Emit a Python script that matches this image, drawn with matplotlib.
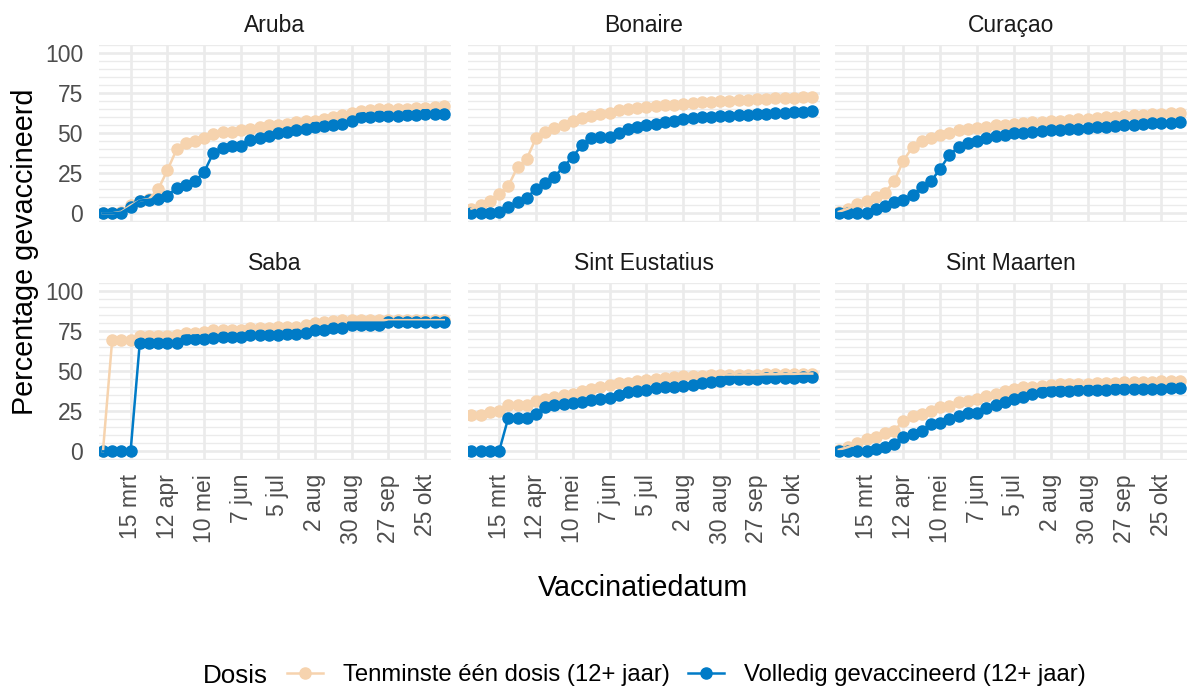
import matplotlib
matplotlib.use("Agg")
import matplotlib.pyplot as plt
from matplotlib.lines import Line2D
from matplotlib.ticker import MultipleLocator
import pandas as pd

plt.rcParams['font.family'] = ['Liberation Sans', 'DejaVu Sans']

# weekly vaccination dates (Mondays)
dates = pd.date_range("2021-02-22", periods=38, freq="7D")
tick_dates = pd.to_datetime(["2021-03-15", "2021-04-12", "2021-05-10", "2021-06-07", "2021-07-05",
                             "2021-08-02", "2021-08-30", "2021-09-27", "2021-10-25"])
tick_labels = ["15 mrt", "12 apr", "10 mei", "7 jun", "5 jul", "2 aug", "30 aug", "27 sep", "25 okt"]

islands = ["Aruba", "Bonaire", "Curaçao", "Saba", "Sint Eustatius", "Sint Maarten"]
series_names = ["Tenminste één dosis (12+ jaar)", "Volledig gevaccineerd (12+ jaar)"]

aruba_een = [0, 0, 1, 5, 8, 9, 15, 27, 40, 44, 45, 47, 49.5, 51, 51, 52, 53, 54, 55, 55.5,
             56, 57, 57.5, 58, 59, 60, 61.5, 63, 64, 64.5, 65, 65, 65.5, 65.5, 66, 66, 66.5, 67]
aruba_vol = [0, 0, 0.5, 4, 8, 8.5, 9, 11, 16, 18, 20, 26, 38, 41, 42, 42, 46, 47, 48.5, 50,
             51, 52, 53, 54, 54.5, 55, 56, 58, 60, 60.5, 61, 61, 61, 61.5, 61.5, 62, 62, 62]
bonaire_een = [3, 5, 8, 12, 17, 29, 34, 47, 51, 53.5, 55.5, 58, 59.5, 61, 62, 63, 64.5, 65.5, 66, 66.5,
               67, 67.5, 68, 68.5, 69, 69.3, 69.6, 70, 70.3, 70.6, 71, 71.2, 71.5, 71.8, 72, 72.3, 72.6, 73]
bonaire_vol = [0, 0, 0, 1, 4, 7, 9.5, 15.5, 19, 23, 29, 35.5, 42.5, 47, 48, 48, 50, 53, 54, 55,
               56, 57, 58, 58.7, 59.4, 60, 60.3, 60.6, 61, 61.3, 61.6, 62, 62.3, 62.6, 63, 63.3, 63.6, 64]
curacao_een = [1, 3, 6, 8, 10, 13, 20, 33, 41.5, 45, 47, 49, 50.5, 52, 52.5, 53.5, 54, 55, 55.5, 56,
               56.4, 56.8, 57.2, 57.6, 58, 58.4, 58.8, 59.2, 59.6, 60, 60.4, 60.8, 61.2, 61.6, 62, 62.3, 62.6, 63]
curacao_vol = [0, 0, 0, 0.5, 2.5, 4.5, 7, 8.5, 11.5, 16.5, 20, 28, 36.5, 41.5, 44, 45, 47, 48.3, 49, 50,
               50.5, 51, 51.4, 51.8, 52.2, 52.6, 53, 53.4, 53.8, 54.2, 54.6, 55, 55.4, 55.8, 56.2, 56.5, 56.7, 57]
saba_een = [0, 69.5, 69.5, 69.5, 72, 72, 72, 72, 73, 74, 74, 74.5, 75.8, 75.8, 75.8, 75.8, 77, 77, 77, 77.5,
            77.5, 77.5, 79, 80.5, 81, 81.5, 82, 82, 82, 82, 82, 82, 82, 82, 82, 82, 82, 82]
saba_vol = [0, 0, 0, 0, 68, 68, 68, 68, 68, 70, 70, 70, 70.6, 71.4, 71.4, 71.4, 72.7, 72.7, 72.7, 72.7,
            73.5, 73.5, 74, 75.6, 76, 77, 77, 79, 79, 79, 79, 81, 81, 81, 81, 81, 81, 81]
statia_een = [22.5, 22.5, 24.5, 25.5, 29, 29, 29, 31.5, 33, 34, 35, 36, 37.5, 39, 40.5, 41.5, 42.5, 43, 44, 44.5,
              45, 45.8, 46.6, 47.2, 47.2, 47.2, 47.8, 48, 48, 48, 48, 48, 48.2, 48.2, 48.4, 48.4, 48.6, 48.6]
statia_vol = [0, 0, 0, 0, 21, 21, 21, 23.5, 27.5, 29, 29.5, 30, 31, 32, 32.7, 33.5, 35.5, 36.9, 37.5, 38.5,
              39.5, 40, 40.5, 41, 41.6, 43, 43.2, 44, 45, 45, 45.3, 45.5, 45.8, 45.8, 45.8, 46, 46.3, 46.6]
maarten_een = [1, 2.7, 5, 7.5, 9, 11.4, 13, 19, 22, 23.4, 25.5, 27.5, 28.6, 30.6, 31.7, 32.7, 34.8, 35.8, 37.5, 39,
               40, 40.4, 41, 41.4, 41.8, 42, 42.2, 42.4, 42.6, 42.8, 43, 43.1, 43.2, 43.4, 43.5, 43.7, 43.9, 44]
maarten_vol = [0, 0, 0, 0, 1.7, 2.7, 4.8, 8.9, 11, 13, 17, 18, 20, 22.4, 23.8, 23.8, 27, 29, 30.6, 32.7,
               34, 35.8, 36.9, 37.5, 37.9, 38, 38.2, 38.4, 38.5, 38.6, 38.7, 38.8, 38.9, 39, 39.1, 39.2, 39.3, 39.3]

panels = [(aruba_een, aruba_vol), (bonaire_een, bonaire_vol), (curacao_een, curacao_vol),
          (saba_een, saba_vol), (statia_een, statia_vol), (maarten_een, maarten_vol)]

colors = ["#F6D3AE", "#007BC7"]
grid_col = "#EBEBEB"
W, H = 1187, 690

fig = plt.figure(figsize=(W / 100, H / 100), dpi=100)

lefts = [99, 467.5, 835]
tops = [45, 283]
pw, ph = 352, 177

for k, (name, (een, vol)) in enumerate(zip(islands, panels)):
    row, col = divmod(k, 3)
    ax = fig.add_axes([lefts[col] / W, 1 - (tops[row] + ph) / H, pw / W, ph / H])

    # points first, then lines on top (as in the original)
    for vals, c in zip([een, vol], colors):
        ax.plot(dates, vals, ls="none", marker="o", ms=8, color=c, zorder=3)
    for vals, c in zip([een, vol], colors):
        ax.plot(dates, vals, lw=1.8, color=c, zorder=4)

    ax.set_xlim(dates[0] - pd.Timedelta(days=3), dates[-1] + pd.Timedelta(days=5.5))
    ax.set_ylim(-5.4, 105.2)
    ax.set_xticks(tick_dates)
    ax.set_xticklabels(tick_labels, rotation=90)
    ax.yaxis.set_major_locator(MultipleLocator(25))
    ax.yaxis.set_minor_locator(MultipleLocator(5))

    ax.grid(which="major", axis="both", color=grid_col, lw=1.9)
    ax.grid(which="minor", axis="y", color=grid_col, lw=1.0)
    ax.set_axisbelow(True)
    for s in ax.spines.values():
        s.set_visible(False)

    ax.tick_params(which="both", length=0, labelsize=16.5, labelcolor="#4D4D4D")
    ax.tick_params(axis="y", pad=11.5)
    ax.tick_params(axis="x", pad=10)
    ax.tick_params(labelbottom=(row == 1), labelleft=(col == 0))

    ax.annotate(name, xy=(0.5, 1), xycoords="axes fraction", xytext=(0, 9.5),
                textcoords="offset points", ha="center", va="baseline",
                fontsize=16.5, color="#1A1A1A")

fig.text(33.3 / W, 1 - 252 / H, "Percentage gevaccineerd", rotation=90, rotation_mode="anchor",
         ha="center", va="baseline", fontsize=20.7)
fig.text(643 / W, 1 - 596 / H, "Vaccinatiedatum", ha="center", va="baseline", fontsize=20.7)

# legend at the bottom
fig.text(203 / W, 1 - 683 / H, "Dosis", ha="left", va="baseline", fontsize=18.7)
handles = [Line2D([], [], color=c, lw=1.8, marker="o", ms=8) for c in colors]
fig.legend(handles, series_names, loc="center left", bbox_to_anchor=(287 / W, 1 - 675 / H),
           ncol=2, frameon=False, fontsize=17.2, handlelength=1.5, handletextpad=0.84,
           columnspacing=0.75, borderpad=0, borderaxespad=0)

fig.savefig("out.png", dpi=100)
